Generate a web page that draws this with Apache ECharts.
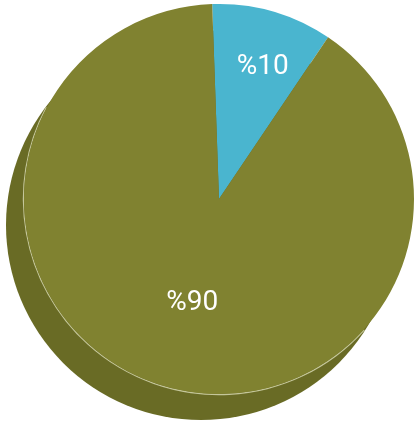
<!DOCTYPE html>
<html>
<head>
<meta charset="utf-8">
<script src="https://cdn.jsdelivr.net/npm/echarts@6/dist/echarts.min.js"></script>
<style>
html,body{margin:0;padding:0;background:#fff;}
#c{width:415px;height:428px;}
</style>
</head>
<body>
<div id="c"></div>
<script>
const categories = ['%10', '%90'];
const values = [10, 90];
const labels = ['%10', '%90'];

const colors = ['#4AB5CF', '#808230'];
const shadowColor = '#696B25';
const labelOffsets = [[16, -35], [1, 7]];

const chart = echarts.init(document.getElementById('c'), null, {renderer: 'canvas'});
const total = values.reduce((a, b) => a + b, 0);

chart.setOption({
  animation: false,
  backgroundColor: '#ffffff',
  series: [
    {
      type: 'pie',
      silent: true,
      center: [201, 225],
      radius: 195,
      label: {show: false},
      labelLine: {show: false},
      itemStyle: {color: shadowColor},
      data: [{name: 'shadow', value: total}]
    },
    {
      type: 'pie',
      silent: true,
      center: [219, 199],
      radius: [195, 196.2],
      startAngle: 318,
      endAngle: 152,
      clockwise: true,
      label: {show: false},
      labelLine: {show: false},
      itemStyle: {color: '#c4c69a'},
      data: [{name: 'rim', value: total}]
    },
    {
      type: 'pie',
      center: [219, 199],
      radius: 195,
      startAngle: 92,
      clockwise: true,
      label: {
        show: true,
        position: 'inside',
        color: '#ffffff',
        fontFamily: 'Roboto',
        fontSize: 28,
        formatter: p => labels[p.dataIndex]
      },
      labelLine: {show: false},
      data: categories.map((c, i) => ({
        name: c,
        value: values[i],
        itemStyle: {color: colors[i]},
        label: {offset: labelOffsets[i]}
      }))
    }
  ]
});
</script>
</body>
</html>
